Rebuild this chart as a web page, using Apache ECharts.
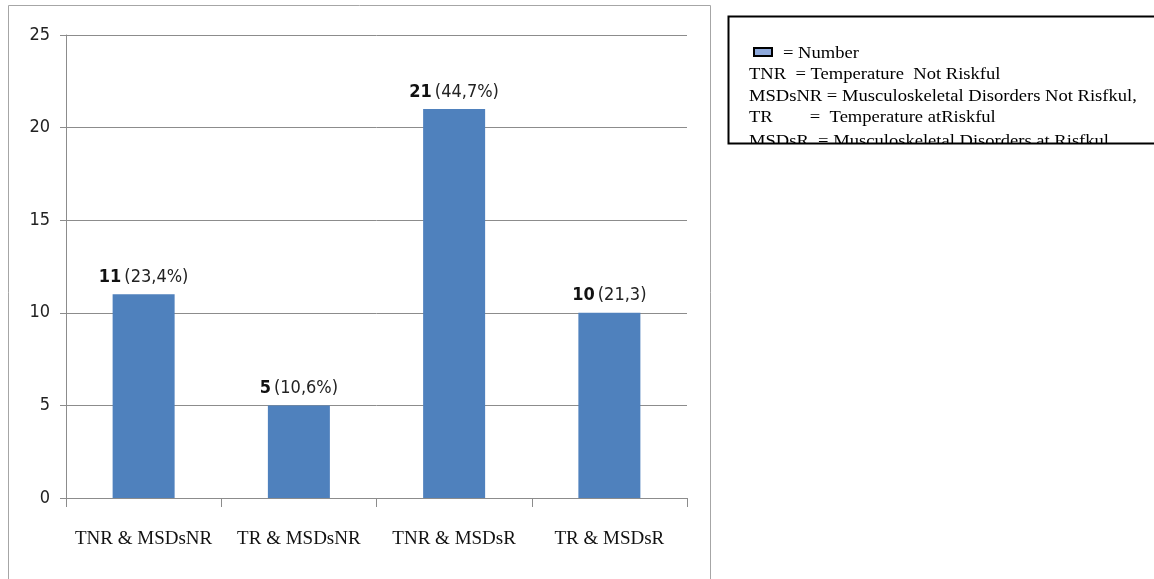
<!DOCTYPE html>
<html>
<head>
<meta charset="utf-8">
<script src="https://cdn.jsdelivr.net/npm/echarts@6/dist/echarts.min.js"></script>
<style>
  html, body { margin: 0; padding: 0; background: #fff; }
  #main { width: 1154px; height: 579px; }
</style>
</head>
<body>
<div id="main"></div>
<script>
var categories = ['TNR & MSDsNR', 'TR & MSDsNR', 'TNR & MSDsR', 'TR & MSDsR'];
var counts = [11, 5, 21, 10];
var shares = ['23,4%', '10,6%', '44,7%', '21,3'];
var yTicks = [0, 5, 10, 15, 20, 25];
var legendLines = [
  'TNR  = Temperature  Not Riskful',
  'MSDsNR = Musculoskeletal Disorders Not Risfkul,',
  'TR        =  Temperature atRiskful',
  'MSDsR  = Musculoskeletal Disorders at Risfkul'
];

var narrow = "'Liberation Sans Narrow', 'DejaVu Sans Condensed', sans-serif";
var serif = "'Liberation Serif', 'DejaVu Serif', serif";

var chart = echarts.init(document.getElementById('main'));

// legend box texts (the source box is stretched sideways)
function legendText(t, x, y) {
  return {
    type: 'text', x: x, y: y, scaleX: 1.16, scaleY: 1,
    style: { text: t, font: '16px ' + serif, fill: '#000', verticalAlign: 'middle' }
  };
}
var legendGraphics = [legendText('= Number', 783, 54)];
legendLines.forEach(function (t, i) {
  legendGraphics.push(legendText(t, 749, 75 + i * 21.5 + (i === 3 ? 2.5 : 0)));
});

var option = {
  animation: false,
  backgroundColor: '#fff',
  grid: { left: 66, right: 467, top: 35, bottom: 81 },
  xAxis: {
    type: 'category',
    data: categories,
    axisLine: { lineStyle: { color: '#8c8c8c', width: 1 } },
    axisTick: { show: true, interval: 0, length: 9, lineStyle: { color: '#8c8c8c' } },
    axisLabel: { interval: 0, margin: 32, fontFamily: serif, fontSize: 19, color: '#111' }
  },
  yAxis: {
    type: 'value',
    min: yTicks[0],
    max: yTicks[yTicks.length - 1],
    interval: 5,
    axisLine: { show: true, lineStyle: { color: '#8c8c8c' } },
    axisTick: { show: true, length: 6, lineStyle: { color: '#8c8c8c' } },
    splitLine: { lineStyle: { color: '#8c8c8c', width: 1 } },
    axisLabel: { margin: 16, fontFamily: narrow, fontSize: 18, color: '#222' }
  },
  series: [{
    type: 'bar',
    data: counts,
    barWidth: 62,
    itemStyle: { color: '#4f81bd' },
    label: {
      show: true,
      position: 'top',
      distance: 8,
      formatter: function (p) {
        return '{n|' + p.value + '}{p|(' + shares[p.dataIndex] + ')}';
      },
      rich: {
        n: { fontFamily: narrow, fontSize: 18, fontWeight: 'bold', color: '#111', padding: [0, 3, 0, 0] },
        p: { fontFamily: narrow, fontSize: 18, color: '#222' }
      }
    }
  }],
  graphic: [
    // chart frame
    { type: 'rect', shape: { x: 8.5, y: 5.5, width: 702, height: 590 },
      style: { fill: 'none', stroke: '#a6a6a6', lineWidth: 1 }, z: 0 },
    // legend icon
    { type: 'rect', shape: { x: 754, y: 48, width: 18, height: 8 },
      style: { fill: '#8ea9db', stroke: '#000', lineWidth: 2 } }
  ].concat(legendGraphics).concat([
    // clip the last line below the box edge
    { type: 'rect', shape: { x: 729, y: 144, width: 430, height: 30 },
      style: { fill: '#fff' }, z: 10 },
    { type: 'rect', shape: { x: 728.5, y: 16.5, width: 440, height: 127 },
      style: { fill: 'none', stroke: '#000', lineWidth: 2 }, z: 11 }
  ])
};

chart.setOption(option);
</script>
</body>
</html>
